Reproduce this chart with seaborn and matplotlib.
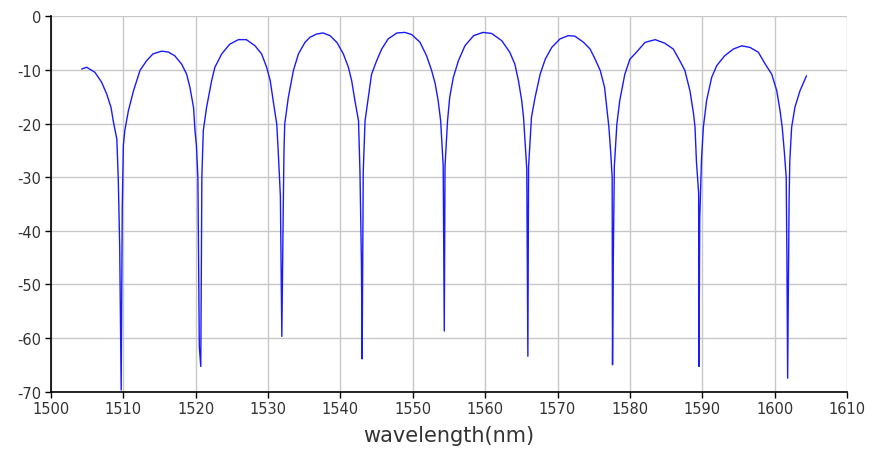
import matplotlib
matplotlib.use("Agg")
import matplotlib.pyplot as plt
import seaborn as sns
import pandas as pd

# === Data (one row per lobe/notch) ===
wavelength = [
    1504.24, 1504.93, 1506.08, 1507.0, 1507.7, 1508.3, 1508.6, 1509.1, 1509.3, 1509.5, 1509.7, 1509.85, 1510.0,
    1510.2, 1510.7, 1511.4, 1512.3, 1513.2, 1514.1, 1515.3, 1516.2, 1517.1, 1518.05, 1518.75, 1519.2, 1519.7,
    1519.9, 1520.1, 1520.3, 1520.5, 1520.7, 1520.85,
    1521.05, 1521.5, 1522.2, 1522.65, 1523.6, 1524.7, 1525.9, 1527.0, 1528.2, 1529.1, 1529.8, 1530.3, 1530.7,
    1531.2, 1531.4, 1531.7, 1531.9, 1532.1, 1532.2,
    1532.3, 1532.8, 1533.5, 1534.2, 1535.1, 1535.8, 1536.7, 1537.6, 1538.55, 1539.5, 1540.4, 1541.1, 1541.55,
    1542.0, 1542.5, 1542.7, 1542.9, 1543.0, 1543.15,
    1543.4, 1543.85, 1544.3, 1545.0, 1545.7, 1546.6, 1547.8, 1548.9, 1549.85, 1551.0, 1551.9, 1552.6, 1553.1,
    1553.5, 1553.85, 1554.2, 1554.35, 1554.45,
    1554.8, 1555.1, 1555.6, 1556.3, 1557.2, 1558.4, 1559.7, 1560.9, 1562.3, 1563.4, 1564.1, 1564.6, 1565.05,
    1565.3, 1565.75, 1565.9, 1566.0,
    1566.4, 1566.9, 1567.6, 1568.3, 1569.2, 1570.35, 1571.5, 1572.4, 1573.6, 1574.5, 1575.2, 1575.9, 1576.5,
    1576.8, 1577.1, 1577.35, 1577.55, 1577.6, 1577.7, 1577.85,
    1578.2, 1578.6, 1579.3, 1580.0, 1580.9, 1582.1, 1583.5, 1584.8, 1586.0, 1586.9, 1587.6, 1588.3, 1588.8,
    1589.0, 1589.2, 1589.5, 1589.55, 1589.65, 1589.9,
    1590.15, 1590.6, 1591.3, 1592.0, 1593.1, 1594.3, 1595.45, 1596.6, 1597.75, 1598.7, 1599.6, 1600.3, 1600.75,
    1601.05, 1601.35, 1601.6, 1601.7, 1601.8, 1602.0, 1602.1,
    1602.35, 1602.8, 1603.5, 1604.4,
]
transmission = [
    -9.83, -9.5, -10.45, -12.3, -14.5, -17.0, -19.5, -22.9, -30.4, -43.2, -69.7, -35.6, -24.1,
    -21.3, -17.6, -13.9, -10.1, -8.3, -7.0, -6.5, -6.65, -7.35, -8.9, -10.8, -13.25, -17.0,
    -21.3, -24.1, -30.0, -61.7, -65.3, -30.0,
    -21.3, -17.0, -12.0, -9.5, -7.0, -5.2, -4.35, -4.35, -5.5, -7.0, -9.5, -12.0, -15.7,
    -20.1, -25.1, -33.5, -59.7, -35.3, -25.1,
    -20.1, -15.1, -10.1, -7.0, -4.85, -3.9, -3.3, -3.1, -3.6, -4.85, -7.0, -9.5, -12.0,
    -15.7, -19.5, -29.1, -45.8, -63.9, -29.0,
    -19.5, -15.1, -10.8, -8.3, -6.1, -4.2, -3.1, -3.0, -3.4, -4.85, -7.35, -10.1, -12.6,
    -15.7, -19.5, -27.9, -58.7, -28.0,
    -19.5, -15.1, -11.4, -8.3, -5.5, -3.6, -3.0, -3.2, -4.55, -6.7, -8.9, -12.0, -15.7,
    -18.8, -28.5, -63.4, -28.0,
    -18.8, -15.1, -10.8, -8.0, -5.8, -4.2, -3.6, -3.7, -4.85, -6.1, -8.0, -10.1, -13.25,
    -17.0, -20.7, -25.4, -30.0, -65.0, -46.2, -28.0,
    -20.1, -15.7, -10.8, -8.0, -6.7, -4.85, -4.35, -5.0, -6.1, -8.3, -10.1, -13.9, -18.2,
    -20.7, -27.2, -33.0, -65.3, -37.8, -26.6,
    -20.7, -15.7, -11.4, -9.2, -7.35, -6.1, -5.5, -5.8, -6.7, -8.9, -10.8, -13.9, -17.6,
    -20.7, -25.4, -30.0, -45.0, -67.5, -34.2, -26.9,
    -20.7, -17.0, -13.9, -11.1,
]
x_ticks = [1500, 1510, 1520, 1530, 1540, 1550, 1560, 1570, 1580, 1590, 1600, 1610]
y_ticks = [0, -10, -20, -30, -40, -50, -60, -70]

df = pd.DataFrame({"wavelength": wavelength, "transmission": transmission})

# === Style ===
sns.set_style("whitegrid")
plt.rcParams["font.family"] = ["DejaVu Sans"]
plt.rcParams["axes.unicode_minus"] = False

fig = plt.figure(figsize=(8.73, 4.56), dpi=100)
ax = fig.add_axes([0.0584, 0.139, 0.9118, 0.823])

sns.lineplot(data=df, x="wavelength", y="transmission", sort=False,
             color="#1a1aff", linewidth=1.0, ax=ax)

ax.set_xlim(1500, 1610)
ax.set_ylim(-70, 0)
ax.set_xticks(x_ticks)
ax.set_yticks(y_ticks)
ax.grid(True, color="#c8c8c8", linewidth=1.0)

for side in ["top", "right"]:
    ax.spines[side].set_visible(False)
for side in ["left", "bottom"]:
    ax.spines[side].set_visible(True)
    ax.spines[side].set_color("black")
    ax.spines[side].set_linewidth(1.2)

ax.tick_params(axis="both", direction="out", length=4.5, width=1, color="black",
               labelsize=10.5, labelcolor="#333333", pad=2.5, left=True, bottom=True)
ax.set_xlabel("wavelength(nm)", fontsize=15, color="#333333", labelpad=6)
ax.set_ylabel("")

plt.savefig("out.png", dpi=100)
plt.close()
